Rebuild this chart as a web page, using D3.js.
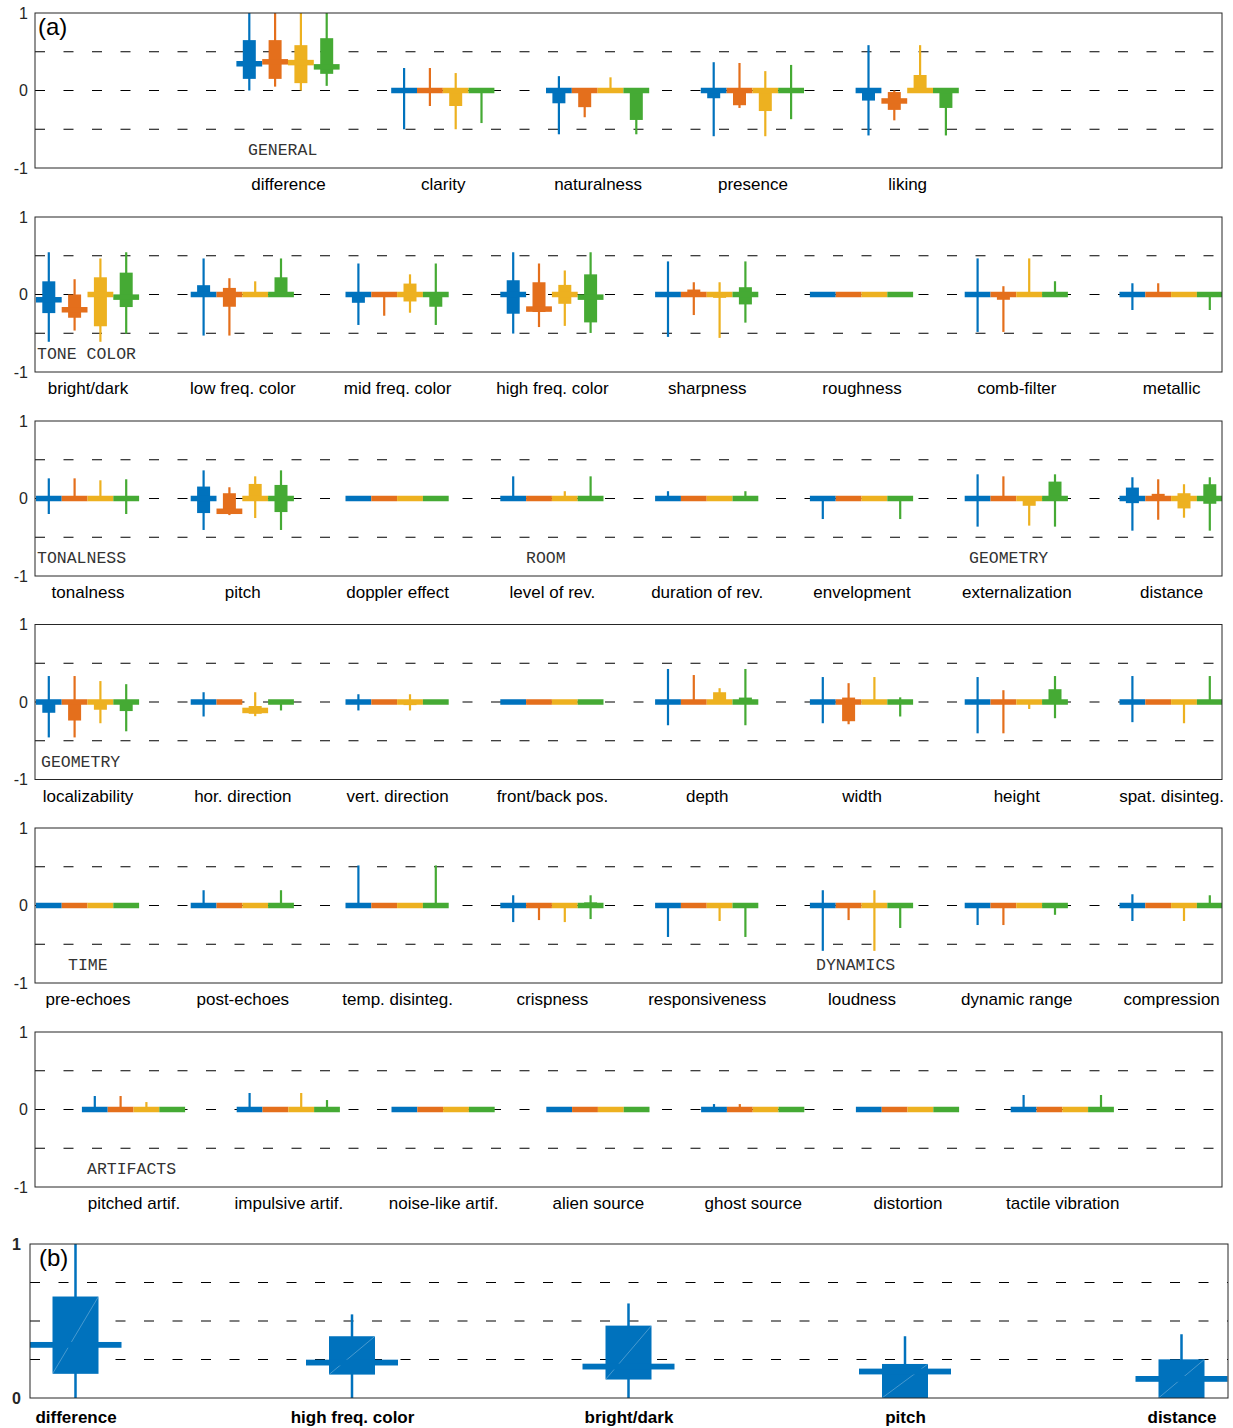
<!DOCTYPE html>
<html>
<head>
<meta charset="utf-8">
<script src="https://cdn.jsdelivr.net/npm/d3@7"></script>
<style>
  body { margin: 0; background: #fff; }
  svg { display: block; }
</style>
</head>
<body>
<svg id="chart" width="1233" height="1428"></svg>
<script>
// Four conditions shown side by side for every attribute
const seriesColors = ["#0072BD", "#E46F1C", "#EDB120", "#45AA34"];

// Each series entry: [whisker low, q1, median, q3, whisker high]
const Z = [0, 0, 0, 0, 0];

const generalCats = ["difference", "clarity", "naturalness", "presence", "liking"];
const generalStats = [
  [[0, 0.15, 0.345, 0.65, 1], [0.05, 0.15, 0.37, 0.65, 1], [0, 0.095, 0.36, 0.585, 1], [0.06, 0.215, 0.305, 0.675, 1]],
  [[-0.5, 0, 0, 0, 0.29], [-0.2, 0, 0, 0, 0.29], [-0.5, -0.2, 0, 0, 0.225], [-0.42, 0, 0, 0, 0]],
  [[-0.565, -0.165, 0, 0, 0.185], [-0.345, -0.215, 0, 0, 0], [0, 0, 0, 0, 0.17], [-0.565, -0.38, 0, 0, 0]],
  [[-0.59, -0.1, 0, 0, 0.365], [-0.225, -0.19, 0, 0, 0.355], [-0.59, -0.265, 0, 0, 0.25], [-0.37, 0, 0, 0, 0.33]],
  [[-0.58, -0.13, 0, 0, 0.585], [-0.385, -0.25, -0.135, -0.02, 0], [0, 0, 0, 0.2, 0.585], [-0.58, -0.225, 0, 0, 0]]
];

const toneCats = ["bright/dark", "low freq. color", "mid freq. color", "high freq. color", "sharpness", "roughness", "comb-filter", "metallic"];
const toneStats = [
  [[-0.61, -0.24, -0.068, 0.17, 0.545], [-0.465, -0.3, -0.197, 0, 0.197], [-0.61, -0.41, 0, 0.222, 0.465], [-0.505, -0.162, -0.034, 0.282, 0.545]],
  [[-0.53, 0, 0, 0.12, 0.465], [-0.53, -0.158, 0, 0.085, 0.21], [0, 0, 0, 0, 0.17], [0, 0, 0, 0.222, 0.465]],
  [[-0.393, -0.107, 0, 0, 0.4], [-0.274, 0, 0, 0, 0], [-0.235, -0.09, 0, 0.141, 0.26], [-0.393, -0.158, 0, 0, 0.4]],
  [[-0.504, -0.248, 0, 0.184, 0.545], [-0.42, -0.226, -0.188, 0.158, 0.4], [-0.405, -0.12, 0, 0.124, 0.31], [-0.496, -0.36, -0.034, 0.26, 0.545]],
  [[-0.547, 0, 0, 0, 0.427], [-0.265, 0, 0, 0.064, 0.158], [-0.56, -0.043, 0, 0, 0.158], [-0.363, -0.128, 0, 0.094, 0.427]],
  [Z, Z, Z, Z],
  [[-0.483, 0, 0, 0, 0.466], [-0.483, -0.068, 0, 0, 0.107], [0, 0, 0, 0, 0.466], [0, 0, 0, 0, 0.171]],
  [[-0.2, 0, 0, 0, 0.145], [0, 0, 0, 0, 0.145], Z, [-0.2, 0, 0, 0, 0]]
];

const spaceCats = ["tonalness", "pitch", "doppler effect", "level of rev.", "duration of rev.", "envelopment", "externalization", "distance"];
const spaceStats = [
  [[-0.2, 0, 0, 0, 0.26], [0, 0, 0, 0, 0.26], [0, 0, 0, 0, 0.235], [-0.2, 0, 0, 0.03, 0.248]],
  [[-0.406, -0.188, 0, 0.154, 0.363], [-0.214, -0.19, -0.165, 0.068, 0.145], [-0.252, 0, 0, 0.188, 0.286], [-0.406, -0.175, 0, 0.175, 0.363]],
  [Z, Z, Z, Z],
  [[0, 0, 0, 0, 0.286], Z, [0, 0, 0, 0, 0.094], [0, 0, 0, 0, 0.286]],
  [[0, 0, 0, 0, 0.094], Z, Z, [0, 0, 0, 0, 0.094]],
  [[-0.265, 0, 0, 0, 0], Z, Z, [-0.265, 0, 0, 0, 0]],
  [[-0.363, 0, 0, 0, 0.312], [0, 0, 0, 0, 0.286], [-0.35, -0.094, 0, 0, 0], [-0.363, 0, 0, 0.218, 0.312]],
  [[-0.415, -0.06, 0, 0.141, 0.274], [-0.274, 0, 0, 0.06, 0.248], [-0.248, -0.128, 0, 0.068, 0.184], [-0.415, -0.068, 0, 0.184, 0.274]]
];

const geometryCats = ["localizability", "hor. direction", "vert. direction", "front/back pos.", "depth", "width", "height", "spat. disinteg."];
const geometryStats = [
  [[-0.457, -0.139, 0, 0, 0.335], [-0.457, -0.239, 0, 0, 0.335], [-0.274, -0.1, 0, 0, 0.27], [-0.378, -0.117, 0, 0, 0.23]],
  [[-0.187, 0, 0, 0, 0.126], Z, [-0.183, -0.152, -0.109, -0.052, 0.126], [-0.109, 0, 0, 0, 0]],
  [[-0.109, 0, 0, 0, 0.1], Z, [-0.109, -0.04, 0, 0, 0.1], Z],
  [Z, Z, Z, Z],
  [[-0.3, 0, 0, 0, 0.426], [0, 0, 0, 0, 0.348], [0, 0, 0, 0.126, 0.178], [-0.3, 0, 0, 0.057, 0.426]],
  [[-0.274, 0, 0, 0, 0.322], [-0.287, -0.248, 0, 0.057, 0.243], [0, 0, 0, 0, 0.322], [-0.187, 0, 0, 0, 0.06]],
  [[-0.404, 0, 0, 0, 0.322], [-0.404, 0, 0, 0, 0.152], [-0.09, 0, 0, 0, 0], [-0.209, 0, 0, 0.165, 0.335]],
  [[-0.26, 0, 0, 0, 0.335], Z, [-0.274, 0, 0, 0, 0], [0, 0, 0, 0, 0.335]]
];

const timeCats = ["pre-echoes", "post-echoes", "temp. disinteg.", "crispness", "responsiveness", "loudness", "dynamic range", "compression"];
const timeStats = [
  [Z, Z, Z, Z],
  [[0, 0, 0, 0, 0.197], Z, Z, [0, 0, 0, 0, 0.197]],
  [[0, 0, 0, 0, 0.517], Z, Z, [0, 0, 0, 0, 0.517]],
  [[-0.214, 0, 0, 0, 0.132], [-0.188, 0, 0, 0, 0], [-0.214, 0, 0, 0, 0], [-0.175, 0, 0, 0.04, 0.132]],
  [[-0.406, 0, 0, 0, 0], Z, [-0.2, 0, 0, 0, 0], [-0.406, 0, 0, 0, 0]],
  [[-0.585, 0, 0, 0, 0.197], [-0.188, 0, 0, 0, 0], [-0.585, 0, 0, 0, 0.197], [-0.29, 0, 0, 0, 0]],
  [[-0.252, 0, 0, 0, 0], [-0.252, 0, 0, 0, 0], Z, [-0.12, 0, 0, 0, 0]],
  [[-0.2, 0, 0, 0, 0.145], Z, [-0.2, 0, 0, 0, 0], [0, 0, 0, 0, 0.132]]
];

const artifactCats = ["pitched artif.", "impulsive artif.", "noise-like artif.", "alien source", "ghost source", "distortion", "tactile vibration"];
const artifactStats = [
  [[0, 0, 0, 0, 0.174], [0, 0, 0, 0, 0.174], [0, 0, 0, 0, 0.096], Z],
  [[0, 0, 0, 0, 0.213], Z, [0, 0, 0, 0, 0.213], [0, 0, 0, 0, 0.122]],
  [Z, Z, Z, Z],
  [Z, Z, Z, Z],
  [[0, 0, 0, 0, 0.07], [0, 0, 0, 0, 0.07], Z, Z],
  [Z, Z, Z, Z],
  [[0, 0, 0, 0, 0.187], Z, Z, [0, 0, 0, 0, 0.187]]
];

// Section captions written inside each panel
const sectionNames = [["GENERAL"], ["TONE COLOR"], ["TONALNESS", "ROOM", "GEOMETRY"], ["GEOMETRY"], ["TIME", "DYNAMICS"], ["ARTIFACTS"]];

// Pooled summary of the five most relevant attributes
const summaryCats = ["difference", "high freq. color", "bright/dark", "pitch", "distance"];
const summaryStats = [
  [0, 0.157, 0.345, 0.659, 1],
  [0, 0.152, 0.23, 0.401, 0.543],
  [0, 0.12, 0.204, 0.47, 0.614],
  [0, 0, 0.172, 0.221, 0.401],
  [0, 0, 0.124, 0.251, 0.414]
];

const yTicksA = [-1, 0, 1];
const gridA = [-0.5, 0, 0.5];
const yTicksB = [0, 1];
const gridB = [0.25, 0.5, 0.75];

// ---------------- layout ----------------
const svg = d3.select("#chart");
const LEFT = 35, RIGHT = 1222, PANEL_H = 155;
const CAT_STEP = 154.8, GROUP_W = 103.2;
const BOX_W = 13, MED_H = 5.5, WHISK_W = 2.2;
const sansFont = "'Liberation Sans', Arial, Helvetica, sans-serif";
const monoFont = "'Liberation Mono', 'DejaVu Sans Mono', monospace";
const axisColor = "#262626";

const panels = [
  { cats: generalCats, stats: generalStats, top: 13, firstX: 288, names: sectionNames[0], nameX: [248] },
  { cats: toneCats, stats: toneStats, top: 217, firstX: 87.5, names: sectionNames[1], nameX: [37] },
  { cats: spaceCats, stats: spaceStats, top: 421, firstX: 87.5, names: sectionNames[2], nameX: [37, 526, 969] },
  { cats: geometryCats, stats: geometryStats, top: 624.5, firstX: 87.5, names: sectionNames[3], nameX: [41] },
  { cats: timeCats, stats: timeStats, top: 828, firstX: 87.5, names: sectionNames[4], nameX: [68, 816] },
  { cats: artifactCats, stats: artifactStats, top: 1032, firstX: 133.5, names: sectionNames[5], nameX: [87] }
];

panels.forEach((p, pi) => {
  const top = p.top, bottom = top + PANEL_H;
  const y = d3.scaleLinear().domain([-1, 1]).range([bottom, top]);
  const x = d3.scaleLinear().domain([0, 1]).range([p.firstX, p.firstX + CAT_STEP]);
  const sub = d3.scaleBand().domain(d3.range(4)).range([-GROUP_W / 2, GROUP_W / 2]);
  const g = svg.append("g");

  const clipId = "clipA" + pi;
  svg.append("clipPath").attr("id", clipId)
    .append("rect").attr("x", LEFT).attr("y", top).attr("width", RIGHT - LEFT).attr("height", PANEL_H);

  // dashed reference lines
  g.selectAll("line.grid").data(gridA).join("line")
    .attr("x1", LEFT).attr("x2", RIGHT)
    .attr("y1", d => y(d)).attr("y2", d => y(d))
    .attr("stroke", "#000").attr("stroke-width", 1.1)
    .attr("stroke-dasharray", "10,18.5");

  const marks = g.append("g").attr("clip-path", `url(#${clipId})`);
  const items = [];
  p.stats.forEach((row, ci) => row.forEach((s, si) => items.push({ ci, si, s })));

  const cx = d => x(d.ci) + sub(d.si) + sub.bandwidth() / 2;

  // whiskers
  marks.selectAll("rect.whisker").data(items.filter(d => d.s[4] > d.s[0])).join("rect")
    .attr("x", d => cx(d) - WHISK_W / 2)
    .attr("width", WHISK_W)
    .attr("y", d => y(d.s[4]))
    .attr("height", d => y(d.s[0]) - y(d.s[4]))
    .attr("fill", d => seriesColors[d.si]);

  // interquartile boxes
  marks.selectAll("rect.box").data(items.filter(d => d.s[3] > d.s[1])).join("rect")
    .attr("x", d => cx(d) - BOX_W / 2)
    .attr("width", BOX_W)
    .attr("y", d => y(d.s[3]))
    .attr("height", d => y(d.s[1]) - y(d.s[3]))
    .attr("fill", d => seriesColors[d.si]);

  // medians
  marks.selectAll("rect.median").data(items).join("rect")
    .attr("x", d => x(d.ci) + sub(d.si))
    .attr("width", sub.bandwidth())
    .attr("y", d => y(d.s[2]) - MED_H / 2)
    .attr("height", MED_H)
    .attr("fill", d => seriesColors[d.si]);

  // frame
  g.append("rect")
    .attr("x", LEFT).attr("y", top).attr("width", RIGHT - LEFT).attr("height", PANEL_H)
    .attr("fill", "none").attr("stroke", axisColor).attr("stroke-width", 1);

  // y axis labels
  const yAxis = g.append("g").attr("transform", `translate(${LEFT},0)`)
    .call(d3.axisLeft(y).tickValues(yTicksA).tickSize(0).tickPadding(7).tickFormat(d => String(d)));
  yAxis.select(".domain").remove();
  yAxis.selectAll("text").attr("font-family", sansFont).attr("font-size", 16).attr("fill", axisColor);

  // category labels
  const xAxis = g.append("g").attr("transform", `translate(0,${bottom})`)
    .call(d3.axisBottom(x).tickValues(d3.range(p.cats.length)).tickSize(0).tickFormat(i => p.cats[i]));
  xAxis.select(".domain").remove();
  xAxis.selectAll("text").attr("y", 22).attr("dy", null)
    .attr("font-family", sansFont).attr("font-size", 17).attr("fill", "#000");

  // section captions
  g.selectAll("text.section").data(p.names).join("text")
    .attr("x", (d, i) => p.nameX[i])
    .attr("y", bottom - 13)
    .attr("font-family", monoFont).attr("font-size", 16.5)
    .attr("fill", "#333")
    .text(d => d);
});

svg.append("text").attr("x", 38).attr("y", 35)
  .attr("font-family", sansFont).attr("font-size", 24).attr("fill", "#000").text("(a)");

// ---------------- panel (b) ----------------
{
  const top = 1244, bottom = 1398, left = 30, right = 1228;
  const y = d3.scaleLinear().domain([0, 1]).range([bottom, top]);
  const x = d3.scaleLinear().domain([0, summaryCats.length - 1]).range([75.5, 1181.5]);
  const bw = 46, mw = 92, mh = 5.8, ww = 2.5;
  const g = svg.append("g");

  svg.append("clipPath").attr("id", "clipB")
    .append("rect").attr("x", left).attr("y", top).attr("width", right - left).attr("height", bottom - top);

  g.selectAll("line.grid").data(gridB).join("line")
    .attr("x1", left).attr("x2", right)
    .attr("y1", d => y(d)).attr("y2", d => y(d))
    .attr("stroke", "#000").attr("stroke-width", 1.1)
    .attr("stroke-dasharray", "10,18.5");

  const marks = g.append("g").attr("clip-path", "url(#clipB)");
  const items = summaryStats.map((s, i) => ({ i, s }));

  marks.selectAll("rect.whisker").data(items).join("rect")
    .attr("x", d => x(d.i) - ww / 2).attr("width", ww)
    .attr("y", d => y(d.s[4])).attr("height", d => y(d.s[0]) - y(d.s[4]))
    .attr("fill", seriesColors[0]);

  marks.selectAll("rect.box").data(items).join("rect")
    .attr("x", d => x(d.i) - bw / 2).attr("width", bw)
    .attr("y", d => y(d.s[3])).attr("height", d => y(d.s[1]) - y(d.s[3]))
    .attr("fill", seriesColors[0]);

  marks.selectAll("line.diag").data(items).join("line")
    .attr("x1", d => x(d.i) - bw / 2).attr("y1", d => y(d.s[1]))
    .attr("x2", d => x(d.i) + bw / 2).attr("y2", d => y(d.s[3]))
    .attr("stroke", "rgba(255,255,255,0.28)").attr("stroke-width", 1);

  marks.selectAll("rect.median").data(items).join("rect")
    .attr("x", d => x(d.i) - mw / 2).attr("width", mw)
    .attr("y", d => y(d.s[2]) - mh / 2).attr("height", mh)
    .attr("fill", seriesColors[0]);

  g.append("rect")
    .attr("x", left).attr("y", top).attr("width", right - left).attr("height", bottom - top)
    .attr("fill", "none").attr("stroke", axisColor).attr("stroke-width", 1);

  const yAxis = g.append("g").attr("transform", `translate(${left},0)`)
    .call(d3.axisLeft(y).tickValues(yTicksB).tickSize(0).tickPadding(9).tickFormat(d => String(d)));
  yAxis.select(".domain").remove();
  yAxis.selectAll("text").attr("font-family", sansFont).attr("font-size", 16)
    .attr("font-weight", "bold").attr("fill", axisColor);

  const xAxis = g.append("g").attr("transform", `translate(0,${bottom})`)
    .call(d3.axisBottom(x).tickValues(d3.range(summaryCats.length)).tickSize(0).tickFormat(i => summaryCats[i]));
  xAxis.select(".domain").remove();
  xAxis.selectAll("text").attr("y", 25).attr("dy", null)
    .attr("font-family", sansFont).attr("font-size", 17).attr("font-weight", "bold").attr("fill", "#000");

  svg.append("text").attr("x", 39).attr("y", 1266)
    .attr("font-family", sansFont).attr("font-size", 24).attr("fill", "#000").text("(b)");
}
</script>
</body>
</html>
